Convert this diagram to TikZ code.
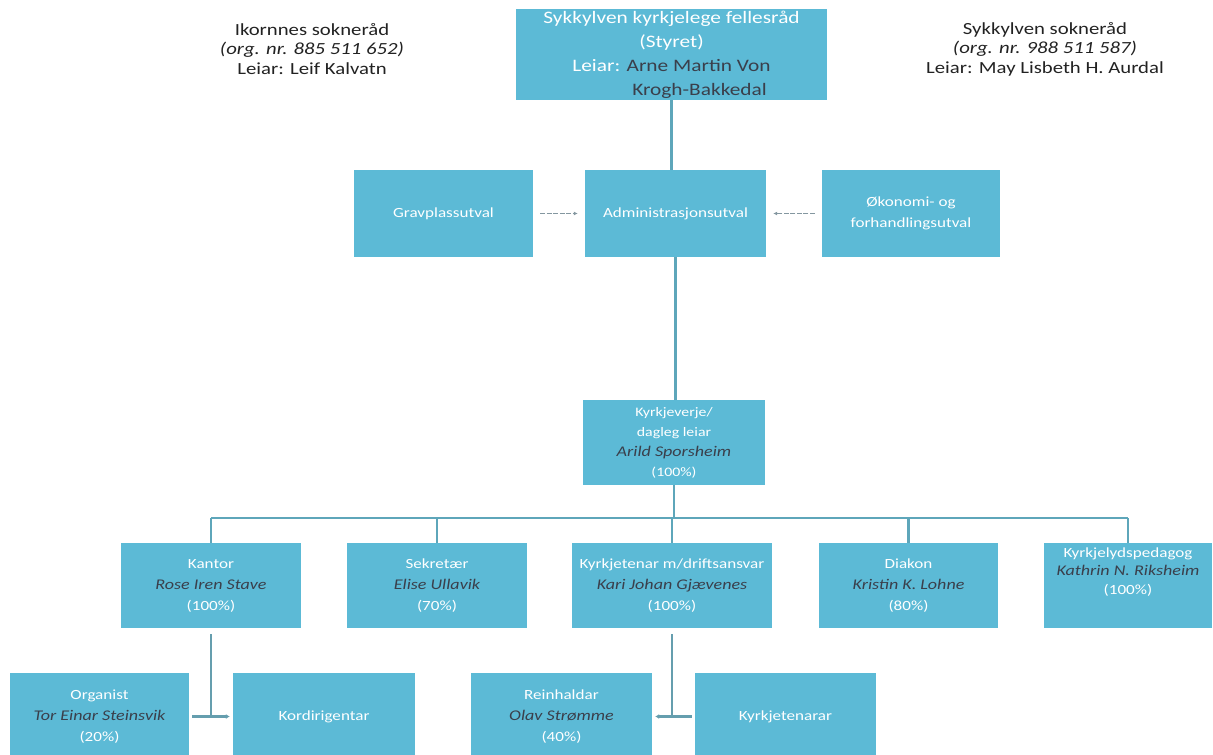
\documentclass[tikz,border=0pt]{standalone}
\usepackage{fontspec}
\setmainfont{Carlito}[FakeStretch=1.22]
\usetikzlibrary{arrows.meta}
\definecolor{boxblue}{HTML}{5CBAD6}
\definecolor{linecol}{HTML}{5EA6BA}
\definecolor{dashcol}{HTML}{8497A0}
\definecolor{namecol}{HTML}{3A3F4B}
\definecolor{txtcol}{HTML}{222222}
\newcommand\pname[1]{{\color{namecol}\itshape\fontsize{14.8}{21}\selectfont #1}}
\begin{document}
\begin{tikzpicture}[x=1pt,y=-1pt,
  orgbox/.style={fill=boxblue, draw=none, inner sep=2pt, align=center, text=white,
    font=\fontsize{14}{21}\selectfont},
  plain/.style={inner sep=0pt, align=center, text=txtcol, font=\fontsize{17}{19.5}\selectfont},
  conn/.style={draw=linecol, line width=2.5pt},
  lowconn/.style={draw=linecol!80!gray, line width=2.5pt},
  sideconn/.style={draw=dashcol, line width=1.8pt, dash pattern=on 5pt off 1.5pt,
    shorten <=7pt, shorten >=7pt}]
\useasboundingbox (0,0) rectangle (1213,755);
\clip (0,0) rectangle (1213,755);

% side texts
\node[plain] (ikornnes) at (312,49) {Ikornnes sokneråd\\\textit{(org. nr. 885 511 652)}\\Leiar: Leif Kalvatn};
\node[plain] (sykkylven) at (1045,49) {Sykkylven sokneråd\\\textit{(org. nr. 988 511 587)}\\Leiar: May Lisbeth H. Aurdal};

% top box
\node[orgbox, minimum width=311pt, minimum height=89pt, font=\fontsize{17.5}{24}\selectfont]
  (top) at (671.5,54.5)
  {Sykkylven kyrkjelege fellesråd\\(Styret)\\Leiar: {\color{namecol}Arne Martin Von}\\\hspace*{56pt}{\color{namecol}Krogh-Bakkedal}};

% committee row
\node[orgbox, minimum width=179pt, minimum height=87pt] (grav) at (443.5,213.5) {Gravplassutval};
\node[orgbox, minimum width=181pt, minimum height=87pt] (admin) at (675.5,213.5) {Administrasjonsutval};
\node[orgbox, minimum width=178pt, minimum height=87pt] (econ) at (911,213.5) {Økonomi- og\\forhandlingsutval};

% kyrkjeverje
\node[orgbox, minimum width=182pt, minimum height=85pt, font=\fontsize{13}{20}\selectfont]
  (kv) at (674,442.5) {Kyrkjeverje/\\dagleg leiar\\\pname{Arild Sporsheim}\\(100\%)};

% staff row
\node[orgbox, minimum width=180pt, minimum height=85pt] (kantor) at (211,585.5) {Kantor\\\pname{Rose Iren Stave}\\(100\%)};
\node[orgbox, minimum width=180pt, minimum height=85pt] (sek) at (437,585.5) {Sekretær\\\pname{Elise Ullavik}\\(70\%)};
\node[orgbox, minimum width=200pt, minimum height=85pt] (kt) at (672,585.5) {Kyrkjetenar m/driftsansvar\\\pname{Kari Johan Gjævenes}\\(100\%)};
\node[orgbox, minimum width=179pt, minimum height=85pt] (diakon) at (908.5,585.5) {Diakon\\\pname{Kristin K. Lohne}\\(80\%)};
\node[orgbox, minimum width=168pt, minimum height=85pt] (kp) at (1128,585.5) {};
\node[inner sep=0pt, align=center, text=white, font=\fontsize{14}{18.5}\selectfont]
  (kptext) at (1128,572) {Kyrkjelydspedagog\\\pname{Kathrin N. Riksheim}\\(100\%)};

% bottom row
\node[orgbox, minimum width=179pt, minimum height=87pt] (org) at (99.5,716.5) {Organist\\\pname{Tor Einar Steinsvik}\\(20\%)};
\node[orgbox, minimum width=182pt, minimum height=87pt] (kor) at (324,716.5) {Kordirigentar};
\node[orgbox, minimum width=181pt, minimum height=87pt] (rein) at (561.5,716.5) {Reinhaldar\\\pname{Olav Strømme}\\(40\%)};
\node[orgbox, minimum width=181pt, minimum height=87pt] (ktar) at (785.5,716.5) {Kyrkjetenarar};

% connectors
\draw[conn] (top.south) -- (top.south |- admin.north);
\draw[sideconn, -{Latex[length=4pt,width=4pt]}] (grav.east) -- (admin.west);
\draw[sideconn, -{Latex[length=4pt,width=4pt]}] (econ.west) -- (admin.east);
\draw[conn] (admin.south) -- (admin.south |- kv.north);

\coordinate (bar) at (674,518);
\draw[conn] (kv.south) -- (kv.south |- bar);
\draw[conn] (kantor.north |- bar) -- (kp.north |- bar);
\foreach \n in {kantor,sek,kt,diakon,kp}
  \draw[conn] (\n.north |- bar) -- (\n.north);

\draw[lowconn, shorten <=6pt] (kantor.south) -- (kantor.south |- org.east);
\draw[lowconn, shorten <=3pt, shorten >=3pt, -{Latex[length=4pt,width=5pt]}] (org.east) -- (kor.west);
\draw[lowconn, shorten <=6pt] (kt.south) -- (kt.south |- rein.east);
\draw[lowconn, shorten <=3pt, shorten >=3pt, -{Latex[length=4pt,width=5pt]}] (ktar.west) -- (rein.east);
\end{tikzpicture}
\end{document}
